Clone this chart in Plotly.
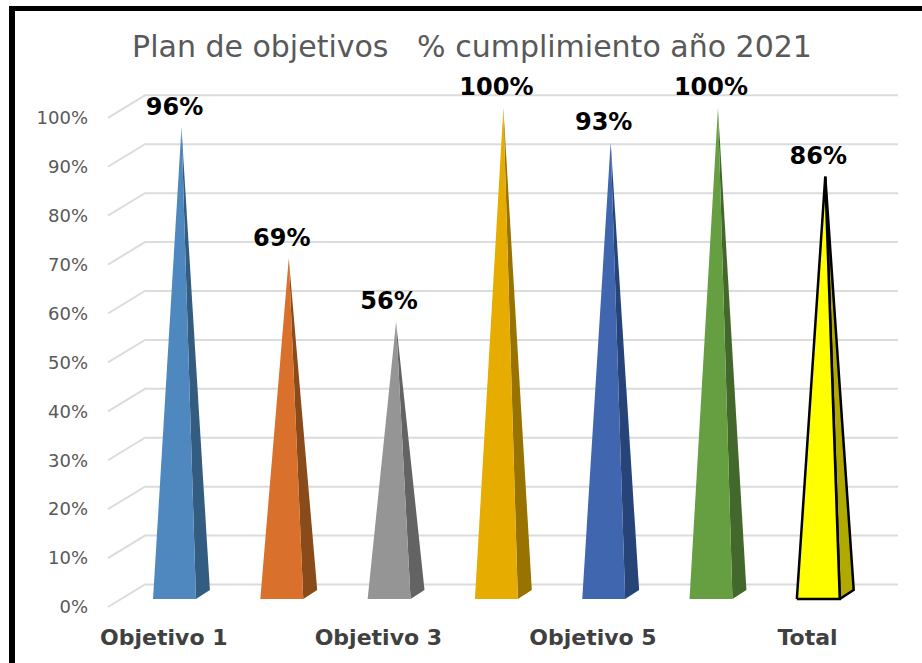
import plotly.graph_objects as go

# values
categories = ["Objetivo 1", "Objetivo 2", "Objetivo 3", "Objetivo 4", "Objetivo 5", "Objetivo 6", "Total"]
values = [96, 69.4, 56.4, 100, 93, 100, 86]
labels = ["96%", "69%", "56%", "100%", "93%", "100%", "86%"]
front_colors = ["#4F88BF", "#D9702B", "#959595", "#E6AC00", "#3F66AE", "#669F42", "#FFFF00"]
side_colors = ["#335C80", "#8A4B1A", "#636363", "#997300", "#264478", "#43682B", "#AFA900"]
edge_colors = [None, None, None, None, None, None, "#000000"]
y_ticks = [0, 10, 20, 30, 40, 50, 60, 70, 80, 90, 100]
y_tick_labels = ["0%", "10%", "20%", "30%", "40%", "50%", "60%", "70%", "80%", "90%", "100%"]
title = "Plan de objetivos\u00a0\u00a0 % cumplimiento año 2021"

W, H = 922, 663
M_L, M_T, M_B = 89, 20, 41

# fake 3D geometry, in axis units
HALF_W = 0.2
APEX_DX = 0.065
SIDE_DX = 0.13
SIDE_DY = 1.85
WALL_LEFT = -0.62
WALL_BACK = -0.275
WALL_RIGHT = 6.743
WALL_DY = 4.6
LABEL_DY = 3.8


def paper_x(px):
    return (px - M_L) / (W - M_L)


def paper_y(px):
    return (H - M_B - px) / (H - M_B - M_T)


fig = go.Figure()

# walls: oblique stub on the left then the horizontal gridline behind the cones
for t in y_ticks:
    fig.add_trace(go.Scatter(
        x=[WALL_LEFT, WALL_BACK, WALL_RIGHT],
        y=[t, t + WALL_DY, t + WALL_DY],
        mode="lines",
        line=dict(color="#DCDCDC", width=2),
        hoverinfo="skip",
    ))

for i, (cat, v) in enumerate(zip(categories, values)):
    edge = edge_colors[i]
    line = dict(color=edge, width=2.5) if edge else dict(width=0)
    apex = i + APEX_DX
    right = i + HALF_W
    # side face first so the front face sits over it
    fig.add_trace(go.Scatter(
        x=[right, right + SIDE_DX, apex, right],
        y=[0, SIDE_DY, v, 0],
        yaxis="y2",
        mode="lines",
        fill="toself",
        fillcolor=side_colors[i],
        line=line,
        hoverinfo="skip",
    ))
    fig.add_trace(go.Scatter(
        x=[i - HALF_W, right, apex, i - HALF_W],
        y=[0, 0, v, 0],
        yaxis="y2",
        mode="lines",
        fill="toself",
        fillcolor=front_colors[i],
        line=line,
        name=cat,
        hovertemplate=cat + ": %{text}<extra></extra>",
        text=[labels[i]] * 4,
    ))

fig.add_trace(go.Scatter(
    x=list(range(len(categories))),
    y=[v + LABEL_DY for v in values],
    yaxis="y2",
    mode="text",
    text=labels,
    textposition="middle center",
    textfont=dict(family="DejaVu Sans", size=24, color="#000000", weight="bold"),
    hoverinfo="skip",
))

fig.update_layout(
    width=W,
    height=H,
    margin=dict(l=M_L, r=0, t=M_T, b=M_B),
    paper_bgcolor="#FFFFFF",
    plot_bgcolor="#FFFFFF",
    showlegend=False,
    title=dict(
        text=title,
        x=472 / W,
        xanchor="center",
        y=1 - 46 / H,
        yanchor="middle",
        font=dict(family="DejaVu Sans", size=30, color="#595959"),
    ),
    xaxis=dict(
        range=[(M_L - 174.5) / 107.3, (W - 174.5) / 107.3],
        tickvals=[i - 0.1 for i in range(0, len(categories), 2)],
        ticktext=categories[::2],
        tickfont=dict(family="DejaVu Sans", size=22, color="#404040", weight="bold"),
        showgrid=False,
        zeroline=False,
        showline=False,
        ticks="",
    ),
    yaxis=dict(
        range=[-3.07, 120],
        tickvals=y_ticks,
        ticktext=y_tick_labels,
        tickfont=dict(family="DejaVu Sans", size=18, color="#595959"),
        showgrid=False,
        zeroline=False,
        showline=False,
        ticks="",
    ),
    yaxis2=dict(
        range=[-4.68, 117.9],
        overlaying="y",
        visible=False,
    ),
    shapes=[
        # heavy black frame, only top and left in the picture
        dict(type="rect", xref="paper", yref="paper", x0=paper_x(9), x1=1,
             y0=paper_y(11), y1=paper_y(6), fillcolor="#000000", line=dict(width=0)),
        dict(type="rect", xref="paper", yref="paper", x0=paper_x(9), x1=paper_x(15),
             y0=paper_y(H), y1=paper_y(6), fillcolor="#000000", line=dict(width=0)),
    ],
)

fig.write_html(
    "out.html",
    config=dict(displayModeBar=False),
    post_script="document.body.style.margin='0';",
)
